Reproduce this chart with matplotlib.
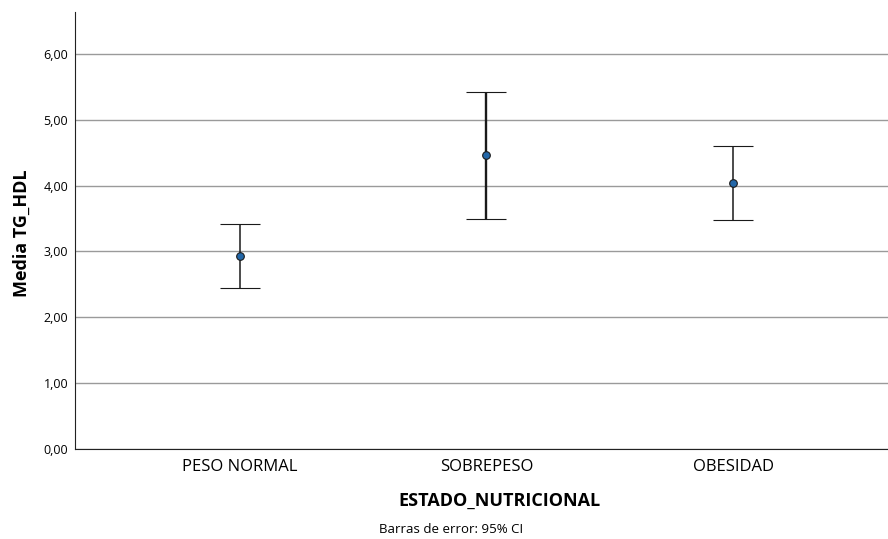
#!/usr/bin/env python3
import numpy as np
import matplotlib.pyplot as plt

# Data
categories = ['PESO NORMAL', 'SOBREPESO', 'OBESIDAD']
means = [2.93, 4.46, 4.04]
ci_low = [2.44, 3.50, 3.48]
ci_high = [3.42, 5.43, 4.60]
y_ticks = [0, 1, 2, 3, 4, 5, 6]
bar_widths = [1.1, 1.7, 1.1]

plt.rcParams['font.family'] = ['Open Sans', 'DejaVu Sans']

fig = plt.figure(figsize=(8.88, 5.39), dpi=100)
ax = fig.add_axes([0.0845, 0.167, 0.93, 0.811])

x = np.arange(len(categories))
for i in range(len(categories)):
    err = [[means[i] - ci_low[i]], [ci_high[i] - means[i]]]
    ax.errorbar(x[i], means[i], yerr=err, fmt='o', color='#1a1a1a',
                ecolor='#1a1a1a', elinewidth=bar_widths[i], capsize=14.5,
                capthick=bar_widths[i] + 0.3, markersize=5.5,
                markerfacecolor='#2367a8', markeredgecolor='#1a1a1a',
                markeredgewidth=0.8, zorder=3)

ax.set_xlim(-0.668, 2.68)
ax.set_ylim(0, 6.64)
ax.set_xticks(x)
ax.set_xticklabels(categories, fontsize=12)
ax.set_yticks(y_ticks)
ax.set_yticklabels([f'{v:.2f}'.replace('.', ',') for v in y_ticks], fontsize=9)
ax.tick_params(axis='y', length=0, pad=5)
ax.tick_params(axis='x', length=0, pad=7)
ax.yaxis.grid(True, color='#9a9a9a', linewidth=1.0)
ax.set_axisbelow(True)
for s in ['top', 'right']:
    ax.spines[s].set_visible(False)
ax.spines['left'].set_color('#222222')
ax.spines['bottom'].set_color('#222222')

ax.set_xlabel('ESTADO_NUTRICIONAL', fontsize=13, fontweight='bold')
ax.xaxis.set_label_coords(0.514, -0.097)
ax.set_ylabel('Media TG_HDL', fontsize=13, fontweight='bold')
ax.yaxis.set_label_coords(-0.053, 0.494)
fig.text(0.508, 0.017, 'Barras de error: 95% CI', fontsize=9.5,
         ha='center', va='center')

plt.savefig('out.png', dpi=100)
